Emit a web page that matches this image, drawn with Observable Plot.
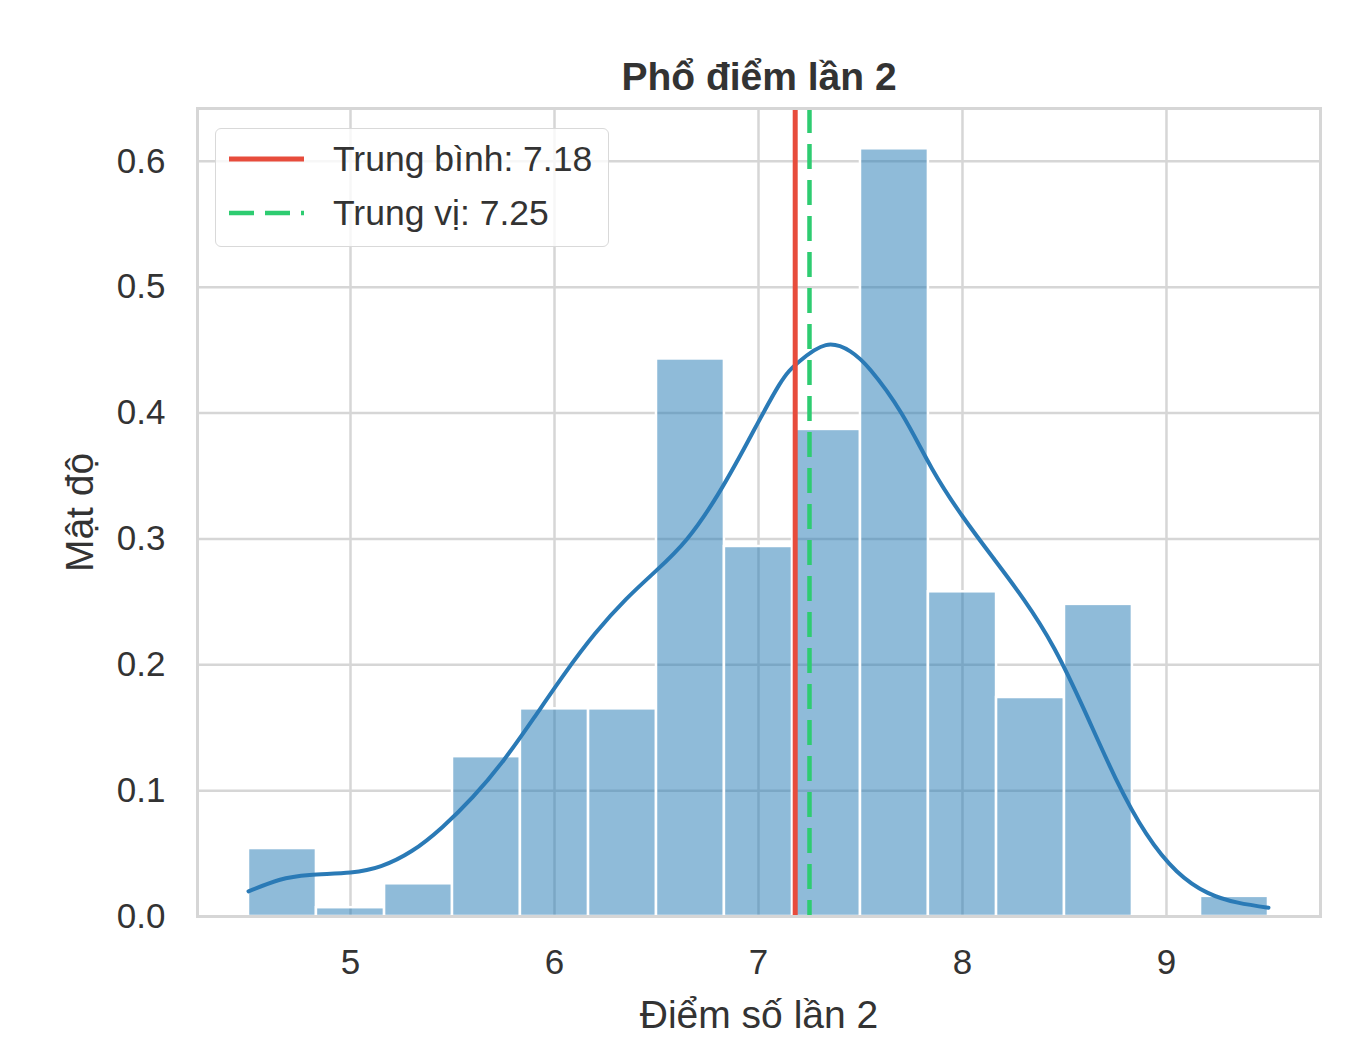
<!DOCTYPE html>
<html>
<head>
<meta charset="utf-8">
<script src="https://cdn.jsdelivr.net/npm/d3@7"></script>
<script src="https://cdn.jsdelivr.net/npm/@observablehq/plot@0.6"></script>
<style>
  html, body { margin: 0; padding: 0; background: #fff; }
  #wrap { position: relative; width: 1360px; height: 1058px; font-family: "Liberation Sans", Arial, sans-serif; }
  #legend {
    position: absolute; left: 215px; top: 128px; width: 394px; height: 119px;
    border: 1.5px solid #d9d9d9; border-radius: 6px; background: rgba(255,255,255,0.8);
    box-sizing: border-box;
  }
  .row { position: absolute; left: 0; height: 50px; }
  .row svg { position: absolute; left: 12px; top: 0; }
  .row span { position: absolute; left: 117px; white-space: nowrap; font-size: 35.5px; color: #333; line-height: 50px; top: 0; }
</style>
</head>
<body>
<div id="wrap"></div>
<script>
// ---- data ----
const chartTitle = "Phổ điểm lần 2";
const xLabel = "Điểm số lần 2";
const yLabel = "Mật độ";
const xTicks = [5, 6, 7, 8, 9];
const yTicks = [0, 0.1, 0.2, 0.3, 0.4, 0.5, 0.6];
const binStart = [4.5, 4.833, 5.167, 5.5, 5.833, 6.167, 6.5, 6.833, 7.167, 7.5, 7.833, 8.167, 8.5, 8.833, 9.167];
const binEnd   = [4.833, 5.167, 5.5, 5.833, 6.167, 6.5, 6.833, 7.167, 7.5, 7.833, 8.167, 8.5, 8.833, 9.167, 9.5];
const density  = [0.054, 0.007, 0.026, 0.127, 0.165, 0.165, 0.443, 0.294, 0.387, 0.610, 0.258, 0.174, 0.248, 0.0, 0.016];
const kdeX = [4.50, 4.65, 4.80, 5.00, 5.15, 5.30, 5.45, 5.60, 5.75, 5.90, 6.05, 6.20, 6.35, 6.50, 6.65, 6.80, 6.95, 7.10, 7.20, 7.33, 7.45, 7.55, 7.70, 7.85, 8.00, 8.15, 8.30, 8.45, 8.60, 8.75, 8.90, 9.05, 9.20, 9.35, 9.50];
const kdeY = [0.020, 0.029, 0.033, 0.035, 0.040, 0.052, 0.071, 0.095, 0.124, 0.158, 0.193, 0.225, 0.252, 0.275, 0.300, 0.335, 0.378, 0.422, 0.441, 0.454, 0.449, 0.434, 0.400, 0.356, 0.318, 0.285, 0.252, 0.213, 0.163, 0.110, 0.066, 0.036, 0.019, 0.011, 0.007];
const meanValue = 7.18;
const medianValue = 7.25;
const legendLabels = ["Trung bình: 7.18", "Trung vị: 7.25"];

// ---- tables ----
const bins = binStart.map((s, i) => ({x1: s, x2: binEnd[i], y: density[i]}));
const kde = kdeX.map((x, i) => ({x, y: kdeY[i]}));

const textColor = "#333333";
const plot = Plot.plot({
  width: 1360,
  height: 1058,
  marginLeft: 197,
  marginRight: 40,
  marginTop: 108,
  marginBottom: 142,
  style: {fontFamily: '"Liberation Sans", Arial, sans-serif', fontSize: "35px", color: textColor, background: "white"},
  x: {domain: [4.25, 9.755], ticks: xTicks, label: null},
  y: {domain: [0, 0.642], ticks: yTicks, label: null},
  marks: [
    Plot.gridX(xTicks, {stroke: "#d6d6d6", strokeOpacity: 1, strokeWidth: 2.5}),
    Plot.gridY(yTicks, {stroke: "#d6d6d6", strokeOpacity: 1, strokeWidth: 2.5}),
    Plot.rectY(bins, {x1: "x1", x2: "x2", y: "y", fill: "#1f77b4", fillOpacity: 0.5, stroke: "white", strokeWidth: 2.5}),
    Plot.line(kde, {x: "x", y: "y", stroke: "#2a7ab6", strokeWidth: 4, curve: "natural"}),
    Plot.ruleX([meanValue], {stroke: "#e74c3c", strokeWidth: 5}),
    Plot.ruleX([medianValue], {stroke: "#2ecc71", strokeWidth: 4.5, strokeDasharray: "25 11"}),
    Plot.frame({stroke: "#d6d6d6", strokeWidth: 3}),
    Plot.axisX(xTicks, {tickSize: 0, tickPadding: 33, fontSize: 35, fill: textColor, tickFormat: d3.format("d"), label: null}),
    Plot.axisY(yTicks, {tickSize: 0, tickPadding: 32, fontSize: 35, fill: textColor, tickFormat: d3.format(".1f"), label: null}),
    Plot.text([chartTitle], {frameAnchor: "top", dy: -31, lineAnchor: "middle", textAnchor: "middle", fontSize: 39, fontWeight: "bold", fill: textColor}),
    Plot.text([xLabel], {frameAnchor: "bottom", dy: 99, lineAnchor: "middle", textAnchor: "middle", fontSize: 39, fill: textColor}),
    Plot.text([yLabel], {frameAnchor: "left", dx: -117, rotate: -90, lineAnchor: "middle", textAnchor: "middle", fontSize: 39, fill: textColor})
  ]
});

const wrap = document.getElementById("wrap");
wrap.appendChild(plot);

// legend (HTML overlay)
const legend = document.createElement("div");
legend.id = "legend";
legend.innerHTML = `
  <div class="row" style="top:5px">
    <svg width="80" height="50"><line x1="1" x2="76" y1="25" y2="25" stroke="#e74c3c" stroke-width="5"/></svg>
    <span>${legendLabels[0]}</span>
  </div>
  <div class="row" style="top:59px">
    <svg width="80" height="50"><line x1="1" x2="76" y1="25" y2="25" stroke="#2ecc71" stroke-width="4.5" stroke-dasharray="25 11"/></svg>
    <span>${legendLabels[1]}</span>
  </div>`;
wrap.appendChild(legend);
</script>
</body>
</html>
